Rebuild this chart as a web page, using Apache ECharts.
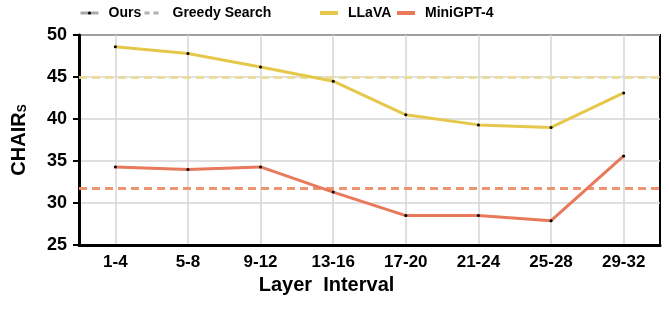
<!DOCTYPE html>
<html><head><meta charset="utf-8">
<script src="https://cdn.jsdelivr.net/npm/echarts@6/dist/echarts.min.js"></script>
<style>html,body{margin:0;padding:0;background:#fff}#c{width:669px;height:314px}</style>
</head><body><div id="c"></div>
<script>
const categories = ['1-4','5-8','9-12','13-16','17-20','21-24','25-28','29-32'];
const llavaOurs = [48.6, 47.8, 46.2, 44.5, 40.5, 39.3, 39.0, 43.1];
const miniOurs = [34.3, 34.0, 34.3, 31.3, 28.5, 28.5, 27.9, 35.6];
const llavaGreedy = 45.0;
const miniGreedy = 31.7;
const yTicks = [25, 30, 35, 40, 45, 50];

const FONT = 'Liberation Sans';
const YEL = '#E5C84B';
const ORA = '#E8795A';

function legendAt(name, left, extra) {
  return Object.assign({
    data: [name], left: left, top: 6, padding: 0, itemWidth: 18, itemHeight: 4, itemGap: 0,
    textStyle: {fontFamily: FONT, fontWeight: 'bold', fontSize: 14, color: '#000', padding: [0, 0, 0, 5]},
    selectedMode: false
  }, extra);
}

const chart = echarts.init(document.getElementById('c'), null, {renderer: 'canvas'});
chart.setOption({
  animation: false,
  backgroundColor: '#fff',
  textStyle: {fontFamily: FONT},
  legend: [
    legendAt('Ours', 79, {itemStyle: {color: '#000'}, lineStyle: {color: '#a8a8a8', width: 3}}),
    legendAt('Greedy Search', 143, {itemStyle: {color: 'rgba(0,0,0,0)'}, lineStyle: {color: '#b0b0b0', width: 3, type: [5, 4]}}),
    legendAt('LLaVA', 320, {icon: 'rect', itemStyle: {color: YEL}}),
    legendAt('MiniGPT-4', 397, {icon: 'rect', itemStyle: {color: ORA}})
  ],
  grid: {left: 79, right: 9, top: 35, bottom: 69, show: true, borderColor: '#000', borderWidth: 2, backgroundColor: 'transparent'},
  xAxis: {
    type: 'category', data: categories, boundaryGap: true,
    name: 'Layer  Interval', nameLocation: 'middle', nameGap: 23,
    nameTextStyle: {fontFamily: FONT, fontWeight: 'bold', fontSize: 20, color: '#000', padding: [0, 86, 0, 0]},
    axisLine: {lineStyle: {color: '#000', width: 3}},
    axisTick: {alignWithLabel: true, length: 5, lineStyle: {color: '#000', width: 2}},
    splitLine: {show: true, alignWithLabel: true, lineStyle: {color: '#d6d6d6', width: 1.5}},
    axisLabel: {fontFamily: FONT, fontWeight: 'bold', fontSize: 17, color: '#000', margin: 9}
  },
  yAxis: {
    type: 'value', min: yTicks[0], max: yTicks[yTicks.length - 1], interval: 5,
    name: '{m|CHAIR}{s|S}', nameLocation: 'middle', nameGap: 50, nameRotate: 90,
    nameTextStyle: {rich: {
      m: {fontFamily: FONT, fontWeight: 'bold', fontSize: 20, color: '#000'},
      s: {fontFamily: FONT, fontWeight: 'bold', fontSize: 12, color: '#000', verticalAlign: 'bottom', padding: [8, 0, 0, 0]}
    }},
    axisLine: {show: true, lineStyle: {color: '#000', width: 3}},
    axisTick: {show: true, length: 6, lineStyle: {color: '#000', width: 2}},
    splitLine: {show: true, lineStyle: {color: '#d6d6d6', width: 1.5}},
    axisLabel: {fontFamily: FONT, fontWeight: 'bold', fontSize: 18, color: '#000', margin: 12}
  },
  series: [
    {name: 'Ours', type: 'line', data: [], symbol: 'circle', symbolSize: 3, itemStyle: {color: '#000'}, lineStyle: {color: '#a8a8a8', width: 3}},
    {name: 'Greedy Search', type: 'line', data: [], symbol: 'none', lineStyle: {color: '#b0b0b0', width: 3, type: [5, 4]}},
    {name: 'LLaVA', type: 'line', data: llavaOurs, symbol: 'circle', symbolSize: 3, z: 5,
     itemStyle: {color: '#000'}, lineStyle: {color: YEL, width: 3},
     markLine: {silent: true, symbol: 'none', label: {show: false}, animation: false,
       lineStyle: {color: '#EADB96', width: 3, type: [8, 5], opacity: 0.9}, data: [{yAxis: llavaGreedy}]}},
    {name: 'MiniGPT-4', type: 'line', data: miniOurs, symbol: 'circle', symbolSize: 3, z: 5,
     itemStyle: {color: '#000'}, lineStyle: {color: ORA, width: 3},
     markLine: {silent: true, symbol: 'none', label: {show: false}, animation: false,
       lineStyle: {color: '#EC8E6C', width: 3, type: [8, 5], opacity: 0.95}, data: [{yAxis: miniGreedy}]}}
  ]
});
</script></body></html>
